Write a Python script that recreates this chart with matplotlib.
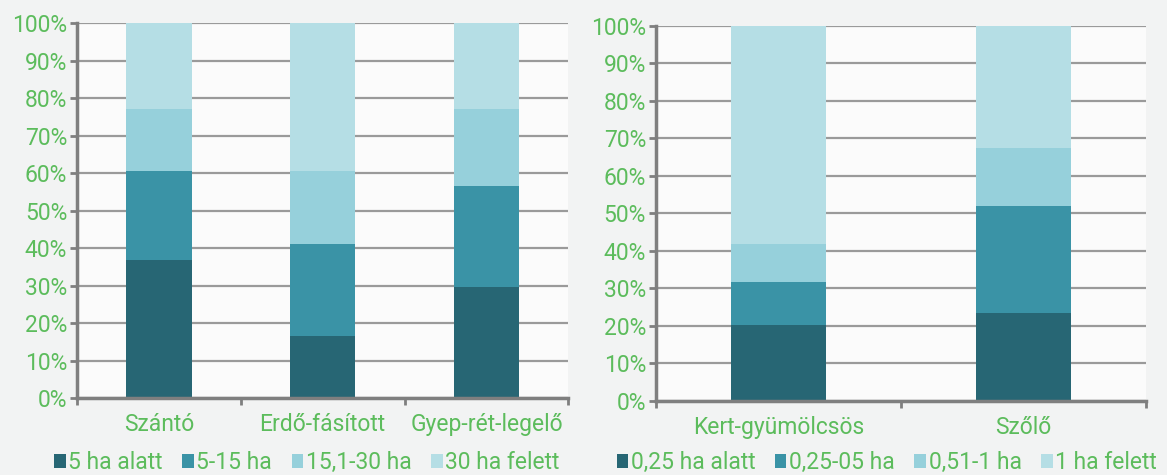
import matplotlib
matplotlib.use("Agg")
import matplotlib.pyplot as plt
import numpy as np
from matplotlib.ticker import PercentFormatter

plt.rcParams['font.family'] = ['Roboto', 'DejaVu Sans']

# Left chart data (shares in %)
left_categories = ["Szántó", "Erdő-fásított", "Gyep-rét-legelő"]
left_series = ["5 ha alatt", "5-15 ha", "15,1-30 ha", "30 ha felett"]
left_s1 = [36.8, 16.6, 29.5]
left_s2 = [23.8, 24.5, 27.0]
left_s3 = [16.4, 19.4, 20.5]
left_s4 = [23.0, 39.5, 23.0]

# Right chart data (shares in %)
right_categories = ["Kert-gyümölcsös", "Szőlő"]
right_series = ["0,25 ha alatt", "0,25-05 ha", "0,51-1 ha", "1 ha felett"]
right_s1 = [20.1, 23.5]
right_s2 = [11.6, 28.4]
right_s3 = [10.1, 15.5]
right_s4 = [58.2, 32.6]

colors = ["#276674", "#3a93a6", "#96d0db", "#b5dee5"]
green = "#5cbc5c"
grid_c = "#9a9a9a"
spine_c = "#7f7f7f"
FS = 16.5

fig = plt.figure(figsize=(11.67, 4.75), dpi=100, facecolor="#f2f3f3")


def draw(ax, cats, series_vals, series_names, width):
    x = np.arange(len(cats))
    bottom = np.zeros(len(cats))
    handles = []
    for vals, name, c in zip(series_vals, series_names, colors):
        h = ax.bar(x, vals, width, bottom=bottom, color=c, label=name, zorder=3,
                   edgecolor=c, linewidth=0)
        bottom += np.array(vals)
        handles.append(h)
    ax.set_xlim(-0.5, len(cats) - 0.5)
    ax.set_ylim(0, 100)
    ax.set_yticks(np.arange(0, 101, 10))
    ax.yaxis.set_major_formatter(PercentFormatter(decimals=0))
    ax.set_facecolor("#fbfbfb")
    ax.grid(axis="y", color=grid_c, linewidth=1.6, zorder=1)
    for s in ["top", "right"]:
        ax.spines[s].set_visible(False)
    for s in ["left", "bottom"]:
        ax.spines[s].set_color(spine_c)
        ax.spines[s].set_linewidth(2.5)
        ax.spines[s].set_zorder(4)
    ax.tick_params(axis="y", colors=spine_c, labelcolor=green, labelsize=FS,
                   length=5, width=2, pad=2)
    # x ticks at category boundaries, labels centred
    ax.set_xticks(np.arange(len(cats) + 1) - 0.5)
    ax.set_xticklabels([])
    ax.set_xticks(x, minor=True)
    ax.set_xticklabels(cats, minor=True)
    ax.tick_params(axis="x", which="major", colors=spine_c, length=5, width=2)
    ax.tick_params(axis="x", which="minor", length=0, labelcolor=green,
                   labelsize=FS, pad=11)
    return handles


axL = fig.add_axes([0.066, 0.162, 0.421, 0.789])
hL = draw(axL, left_categories, [left_s1, left_s2, left_s3, left_s4], left_series, 0.40)
axR = fig.add_axes([0.562, 0.156, 0.420, 0.790])
hR = draw(axR, right_categories, [right_s1, right_s2, right_s3, right_s4], right_series, 0.39)

legkw = dict(ncol=4, frameon=False, handlelength=0.5, handleheight=0.5,
             handletextpad=0.12, columnspacing=0.85, fontsize=FS,
             labelcolor=green, borderaxespad=0, borderpad=0)
fig.legend(handles=hL, labels=left_series, loc="center",
           bbox_to_anchor=(0.263, 0.026), **legkw)
fig.legend(handles=hR, labels=right_series, loc="center",
           bbox_to_anchor=(0.760, 0.026), **legkw)

fig.savefig("out.png", dpi=100, facecolor=fig.get_facecolor())
